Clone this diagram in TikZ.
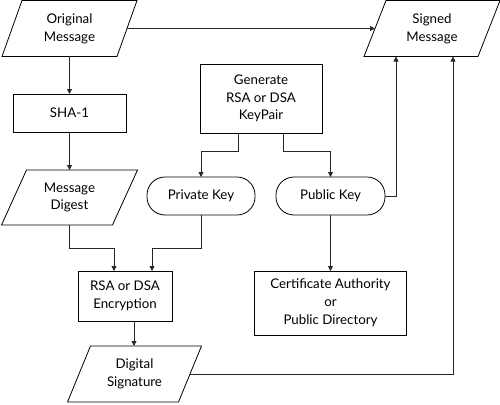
\documentclass[tikz,border=0pt]{standalone}
\usepackage{fontspec}
\setmainfont{Lato}
\usetikzlibrary{arrows.meta}
\tikzset{
  base/.style={inner sep=0pt, outer sep=0pt, align=center, font=\fontsize{13.3}{17.8}\selectfont},
  para/.style={base},
  boxn/.style={base, draw, line width=0.8pt},
  keyn/.style={base, draw, line width=0.8pt, rounded corners=18pt},
  conn/.style={line width=0.8pt, draw=black!85},
  arr/.style={conn, -{Triangle[length=5pt,width=5pt]}},
  pshape/.style={line width=0.8pt}
}
\newcommand{\paradraw}[2]{%
  \draw[pshape] ([xshift=#2/2]#1.north west) -- ([xshift=#2/2]#1.north east)
    -- ([xshift=-#2/2]#1.south east) -- ([xshift=-#2/2]#1.south west) -- cycle;}
\begin{document}
\begin{tikzpicture}[x=1pt,y=-1pt]
\useasboundingbox (0,0) rectangle (500,404);
% parallelograms
\node[para, minimum width=115pt, minimum height=56pt] (om) at (69.5,28.5) {Original\\Message};
\node[para, minimum width=114pt, minimum height=56pt] (sm) at (432,28.5) {Signed\\Message};
\node[para, minimum width=111pt, minimum height=55pt] (md) at (69.5,197.5) {Message\\Digest};
\node[para, minimum width=111pt, minimum height=56pt] (ds) at (134.5,374) {Digital\\Signature};
\paradraw{om}{20pt}
\paradraw{sm}{22pt}
\paradraw{md}{25pt}
\paradraw{ds}{23pt}
% boxes
\node[boxn, minimum width=113pt, minimum height=38pt] (sha) at (69.5,113) {SHA-1};
\node[boxn, minimum width=122pt, minimum height=69pt] (gen) at (261,98.5) {Generate\\RSA or DSA\\KeyPair};
\node[keyn, minimum width=108pt, minimum height=38pt] (priv) at (201,196) {Private Key};
\node[keyn, minimum width=109pt, minimum height=38pt] (pub) at (330.5,196) {Public Key};
\node[boxn, minimum width=94pt, minimum height=50pt] (rsa) at (125,296) {RSA or DSA\\Encryption};
\node[boxn, minimum width=152pt, minimum height=64pt] (ca) at (330.5,303) {Certificate Authority\\or\\Public Directory};
% connectors
\draw[arr] (om.south) -- (sha.north);
\draw[arr] (sha.south) -- (md.north);
\draw[arr] (om.east) -- (sm.west);
\draw[arr] ([xshift=-23pt]gen.south) -- ++(0,18) -| (priv.north);
\draw[arr] ([xshift=22pt]gen.south) -- ++(0,18) -| (pub.north);
\draw[arr] (pub.east) -| ([xshift=-36pt]sm.south);
\draw[arr] (ds.east) -| ([xshift=21pt]sm.south);
\draw[arr] (md.south) -- ++(0,23) -| ([xshift=-11pt]rsa.north);
\draw[arr] (priv.south) -- ++(0,33) -| ([xshift=27pt]rsa.north);
\draw[arr] ([xshift=9pt]rsa.south) -- ([xshift=9pt]rsa.south |- ds.north);
\draw[arr] (pub.south) -- (ca.north);
\end{tikzpicture}
\end{document}
